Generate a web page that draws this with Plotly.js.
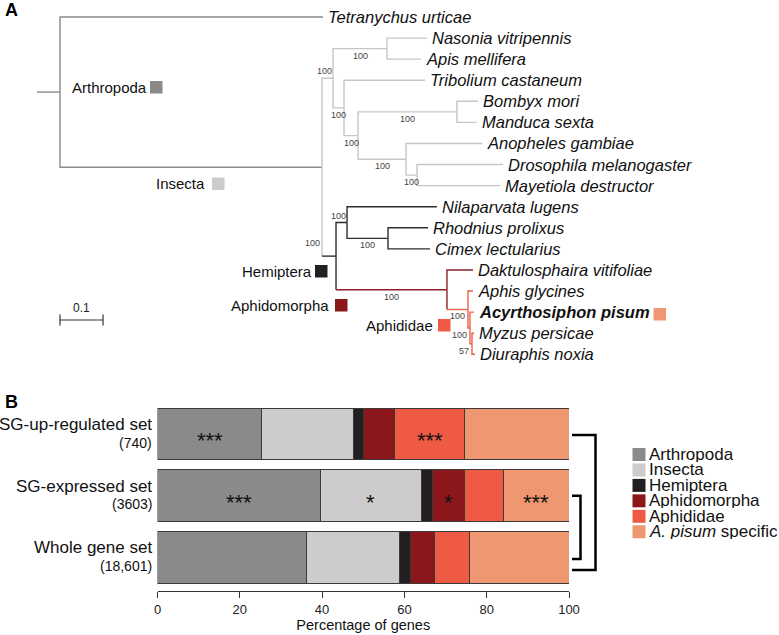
<!DOCTYPE html>
<html><head><meta charset="utf-8">
<script src="https://cdn.plot.ly/plotly-3.0.1.min.js"></script>
<style>html,body{margin:0;padding:0;background:#fff}</style>
</head><body><div id="chart" style="width:779px;height:635px"></div>
<script>
// ---------------- Panel A : phylogeny ----------------
const nodeNames = ['Arthropoda','Tetranychus urticae','Insecta','Holometabola','Hymenoptera',
  'Nasonia vitripennis','Apis mellifera','n1','Tribolium castaneum','n2','Lepidoptera',
  'Bombyx mori','Manduca sexta','Diptera','Anopheles gambiae','n3','Drosophila melanogaster',
  'Mayetiola destructor','Hemiptera','n4','Nilaparvata lugens','n5','Rhodnius prolixus',
  'Cimex lectularius','Aphidomorpha','Daktulosphaira vitifoliae','Aphididae','Aphis glycines',
  'n6','Acyrthosiphon pisum','n7','Myzus persicae','Diuraphis noxia'];
const nodeParents = [-1,0,0,2,3,4,4,3,7,7,9,10,10,9,13,13,15,15,2,18,19,19,21,21,18,24,24,26,26,28,28,30,30];
const branchLengths = [0.0535,0.6116,0.6093,0.0256,0.1256,0.093,0.079,0.0256,0.188,0.0326,0.230,
  0.049,0.046,0.1116,0.177,0.0256,0.200,0.193,0.0326,0.0256,0.209,0.0953,0.093,0.0977,0.258,
  0.0605,0.0488,0.0116,0.0047,0.0093,0.0047,0.0047,0.007];
const bootstrapValues = [null,null,null,100,100,null,null,100,null,100,100,null,null,100,null,100,
  null,null,100,100,null,100,null,null,100,null,100,null,100,null,57,null,null];
const focalSpecies = 'Acyrthosiphon pisum';
const scaleBarLength = 0.1;
const cladeNames = ['Arthropoda','Insecta','Hemiptera','Aphidomorpha','Aphididae'];
const cladeNodes = ['Arthropoda','Holometabola','Hemiptera','Aphidomorpha','Aphididae'];

// ---------------- Panel B : stacked bars ----------------
const geneSets = ['SG-up-regulated set','SG-expressed set','Whole gene set'];
const geneSetSizes = ['(740)','(3603)','(18,601)'];
const seriesNames = ['Arthropoda','Insecta','Hemiptera','Aphidomorpha','Aphididae','A. pisum specific'];
const pctArthropoda   = [25.3, 39.5, 36.2];
const pctInsecta      = [22.4, 24.7, 22.7];
const pctHemiptera    = [2.4, 2.6, 2.6];
const pctAphidomorpha = [7.6, 7.7, 5.9];
const pctAphididae    = [17.0, 9.5, 8.4];
const pctApisum       = [25.3, 16.0, 24.2];
const sigArthropoda   = ['***','***',''];
const sigInsecta      = ['','*',''];
const sigHemiptera    = ['','',''];
const sigAphidomorpha = ['','*',''];
const sigAphididae    = ['***','',''];
const sigApisum       = ['','***',''];
const xTicks = [0,20,40,60,80,100];

// ---------------- styling ----------------
const W = 779, H = 635;
const FONT = 'Liberation Sans, Arial, Helvetica, sans-serif';
const colors = ['#8a8a8a','#cdcbcb','#231f20','#8b171b','#ef5a44','#ef9770'];
const treeColors = ['#8a8a8a','#c6c6c6','#2e2e2e','#8b2024','#ee6048'];
const X = p => p / W, Y = p => 1 - p / H;

// ---- tree layout ----
const N = nodeNames.length;
const children = Array.from({length:N}, () => []);
nodeParents.forEach((p,i) => { if (p >= 0) children[p].push(i); });
const nx = new Array(N), ny = new Array(N);
let leafCounter = 0;
function place(i, x0) {
  nx[i] = x0 + branchLengths[i];
  if (!children[i].length) { ny[i] = leafCounter++; }
  else {
    children[i].forEach(c => place(c, nx[i]));
    const ys = children[i].map(c => ny[c]);
    ny[i] = (Math.min(...ys) + Math.max(...ys)) / 2;
  }
}
place(0, 0);
const clade = new Array(N);
function assign(i, c) {
  const k = cladeNodes.indexOf(nodeNames[i]); if (k >= 0) c = k;
  clade[i] = c; children[i].forEach(ch => assign(ch, c));
}
assign(0, 0);
const segX = cladeNames.map(() => []), segY = cladeNames.map(() => []);
function addLine(k, xs, ys) { segX[k].push(...xs, null); segY[k].push(...ys, null); }
addLine(clade[0], [0, nx[0]], [ny[0], ny[0]]);
for (let i = 1; i < N; i++) {
  const p = nodeParents[i];
  const vk = clade[children[p][0]], hk = clade[i];
  if (vk === hk) addLine(hk, [nx[p], nx[p], nx[i]], [ny[p], ny[i], ny[i]]);
  else { addLine(vk, [nx[p], nx[p]], [ny[p], ny[i]]); addLine(hk, [nx[p], nx[i]], [ny[i], ny[i]]); }
}
const traces = [];
cladeNames.forEach((c,k) => traces.push({type:'scatter', mode:'lines', x:segX[k], y:segY[k],
  xaxis:'x2', yaxis:'y2', line:{color:treeColors[k], width:1.4}, hoverinfo:'skip', showlegend:false, name:c}));

// scale bar
const pxPerLeaf = 21.08;
const scaleY = (320 - 17) / pxPerLeaf, tickH = 5.5 / pxPerLeaf;
const sb0 = nx[0], sb1 = nx[0] + scaleBarLength;
traces.push({type:'scatter', mode:'lines', xaxis:'x2', yaxis:'y2', hoverinfo:'skip', showlegend:false,
  x:[sb0,sb1,null,sb0,sb0,null,sb1,sb1], y:[scaleY,scaleY,null,scaleY-tickH,scaleY+tickH,null,scaleY-tickH,scaleY+tickH],
  line:{color:'#333', width:1.2}});

const annotations = [];
const shapes = [];
// leaf labels
for (let i = 0; i < N; i++) {
  if (children[i].length) continue;
  const name = nodeNames[i];
  const txt = name === focalSpecies ? '<b><i>' + name + '</i></b>' : '<i>' + name + '</i>';
  annotations.push({xref:'x2', yref:'y2', x:nx[i], y:ny[i], text:txt, showarrow:false,
    xanchor:'left', yanchor:'middle', xshift:3, font:{family:FONT, size:16.5, color:'#111'}});
}
// bootstrap labels
const bsAbove = ['Holometabola','n4'];
const pxPerUnit = 430;
for (let i = 0; i < N; i++) {
  if (bootstrapValues[i] === null) continue;
  const p = nodeParents[i];
  const a = {xref:'x2', yref:'y2', y:ny[i], text:String(bootstrapValues[i]), showarrow:false,
    font:{family:FONT, size:9, color:'#444'}, borderpad:0};
  const blen = (nx[i] - nx[p]) * pxPerUnit;
  if (nodeNames[i] === 'Hemiptera') { Object.assign(a, {x:nx[p], xanchor:'right', yanchor:'bottom', xshift:-1, yshift:7}); }
  else if (bsAbove.includes(nodeNames[i])) { Object.assign(a, {x:nx[i], xanchor:'right', yanchor:'bottom', yshift:1}); }
  else if (blen < 8) { Object.assign(a, {x:nx[p], xanchor:'right', yanchor:'top', yshift:-1}); }
  else { Object.assign(a, {x:(nx[p] + nx[i]) / 2, xanchor:'center', yanchor:'top', yshift:-1}); }
  annotations.push(a);
}
annotations.push({xref:'x2', yref:'y2', x:(sb0 + sb1) / 2, y:scaleY, text:String(scaleBarLength), showarrow:false,
  xanchor:'center', yanchor:'bottom', yshift:3, font:{family:FONT, size:12, color:'#222'}});

// clade tags in tree
const cladeTags = [
  {label:'Arthropoda',   tx:148, ty:87.5,  sq:[150,81,162.5,93.5]},
  {label:'Insecta',      tx:206, ty:183,   sq:[212,177.5,224.5,190]},
  {label:'Hemiptera',    tx:313, ty:271.5, sq:[315,265,327.5,277.5]},
  {label:'Aphidomorpha', tx:330, ty:305.5, sq:[335,299,347.5,311.5]},
  {label:'Aphididae',    tx:434, ty:325,   sq:[438,319,450.5,331.5]},
  {label:null,           tx:0,   ty:0,     sq:[653.5,308,666,320.5]}
];
cladeTags.forEach((t,k) => {
  shapes.push({type:'rect', xref:'paper', yref:'paper', x0:X(t.sq[0]), x1:X(t.sq[2]), y0:Y(t.sq[1]), y1:Y(t.sq[3]),
    fillcolor:colors[k], line:{width:0}});
  if (t.label) annotations.push({xref:'paper', yref:'paper', x:X(t.tx + 1), y:Y(t.ty), text:t.label, showarrow:false,
    xanchor:'right', yanchor:'middle', font:{family:FONT, size:15, color:'#111'}});
});

// panel letters
annotations.push({xref:'paper', yref:'paper', x:X(3), y:Y(10), text:'<b>A</b>', showarrow:false, xanchor:'left', yanchor:'middle', font:{family:FONT, size:18, color:'#000'}});
annotations.push({xref:'paper', yref:'paper', x:X(3), y:Y(401.5), text:'<b>B</b>', showarrow:false, xanchor:'left', yanchor:'middle', font:{family:FONT, size:18, color:'#000'}});

// ---- bars ----
const seriesVals = [pctArthropoda, pctInsecta, pctHemiptera, pctAphidomorpha, pctAphididae, pctApisum];
const seriesSig = [sigArthropoda, sigInsecta, sigHemiptera, sigAphidomorpha, sigAphididae, sigApisum];
seriesNames.forEach((s,k) => traces.push({type:'bar', orientation:'h', name:s, y:geneSets, x:seriesVals[k],
  xaxis:'x', yaxis:'y', width:0.84, marker:{color:colors[k], line:{color:'#3a3a3a', width:1}}, showlegend:false, hoverinfo:'x+name'}));
const cum = geneSets.map(() => 0);
seriesVals.forEach((vals,k) => vals.forEach((v,j) => {
  if (seriesSig[k][j]) annotations.push({xref:'x', yref:'y', x:cum[j] + v / 2, y:geneSets[j], text:seriesSig[k][j],
    showarrow:false, xanchor:'center', yanchor:'middle', yshift:-7, font:{family:FONT, size:22, color:'#111'}});
  cum[j] += v;
}));
// set labels
geneSets.forEach((g,j) => {
  annotations.push({xref:'paper', yref:'y', x:X(154), y:g, text:g, showarrow:false, xanchor:'right', yanchor:'middle',
    yshift:9.5, font:{family:FONT, size:17, color:'#111'}});
  annotations.push({xref:'paper', yref:'y', x:X(154), y:g, text:geneSetSizes[j], showarrow:false, xanchor:'right', yanchor:'middle',
    yshift:-8.6, font:{family:FONT, size:14, color:'#111'}});
});
// legend (custom, tight spacing as in the reference)
seriesNames.forEach((s,k) => {
  const cy = 454.5 + 15.45 * k;
  shapes.push({type:'rect', xref:'paper', yref:'paper', x0:X(632.5), x1:X(645.5), y0:Y(cy - 6.5), y1:Y(cy + 6.5), fillcolor:colors[k], line:{width:0}});
  const txt = s.startsWith('A. pisum') ? '<i>A. pisum</i>' + s.slice(8) : s;
  annotations.push({xref:'paper', yref:'paper', x:X(648), y:Y(cy), text:txt, showarrow:false, xanchor:'left', yanchor:'middle',
    height:15, borderpad:0, font:{family:FONT, size:17, color:'#111'}});
});
// significance brackets
const yRange = [-0.543, 2.502], yDomPx = [591, 403];
const catPx = j => { const idx = geneSets.length - 1 - j; return yDomPx[0] + (idx - yRange[0]) / (yRange[1] - yRange[0]) * (yDomPx[1] - yDomPx[0]); };
const bracket = (yTop, yBot, xr) => ({type:'path', xref:'paper', yref:'paper',
  path:`M ${X(572)} ${Y(yTop)} L ${X(xr)} ${Y(yTop)} L ${X(xr)} ${Y(yBot)} L ${X(572)} ${Y(yBot)}`,
  line:{color:'#000', width:2.5}});
shapes.push(bracket(catPx(0) + 1, catPx(2) + 12.5, 595.5));
shapes.push(bracket(catPx(1), catPx(2) + 1.5, 580.5));

const layout = {
  width:W, height:H, autosize:false, margin:{l:0, r:0, t:0, b:0},
  paper_bgcolor:'#fff', plot_bgcolor:'rgba(0,0,0,0)', showlegend:false,
  font:{family:FONT, color:'#111'}, barmode:'stack',
  xaxis:{domain:[X(157.5), X(569)], range:[0,100], tickvals:xTicks, ticks:'outside', ticklen:6, tickwidth:1, tickcolor:'#333',
    showline:true, linecolor:'#333', linewidth:1, showgrid:false, zeroline:false, automargin:false,
    tickfont:{family:FONT, size:13, color:'#222'}, title:{text:'Percentage of genes', font:{family:FONT, size:14.5, color:'#111'}, standoff:1}, anchor:'y'},
  yaxis:{domain:[Y(591), Y(403)], type:'category', categoryorder:'array', categoryarray:geneSets.slice().reverse(),
    range:yRange, showticklabels:false, showgrid:false, zeroline:false, showline:false, ticks:'', automargin:false, anchor:'x'},
  xaxis2:{domain:[0,1], range:[-37/430, 742/430], visible:false, anchor:'y2', fixedrange:true},
  yaxis2:{domain:[Y(380),1], range:[(380-17)/pxPerLeaf, -17/pxPerLeaf], visible:false, anchor:'x2', fixedrange:true},
  annotations:annotations, shapes:shapes
};
Plotly.newPlot('chart', traces, layout, {displayModeBar:false, staticPlot:true});
</script></body></html>
